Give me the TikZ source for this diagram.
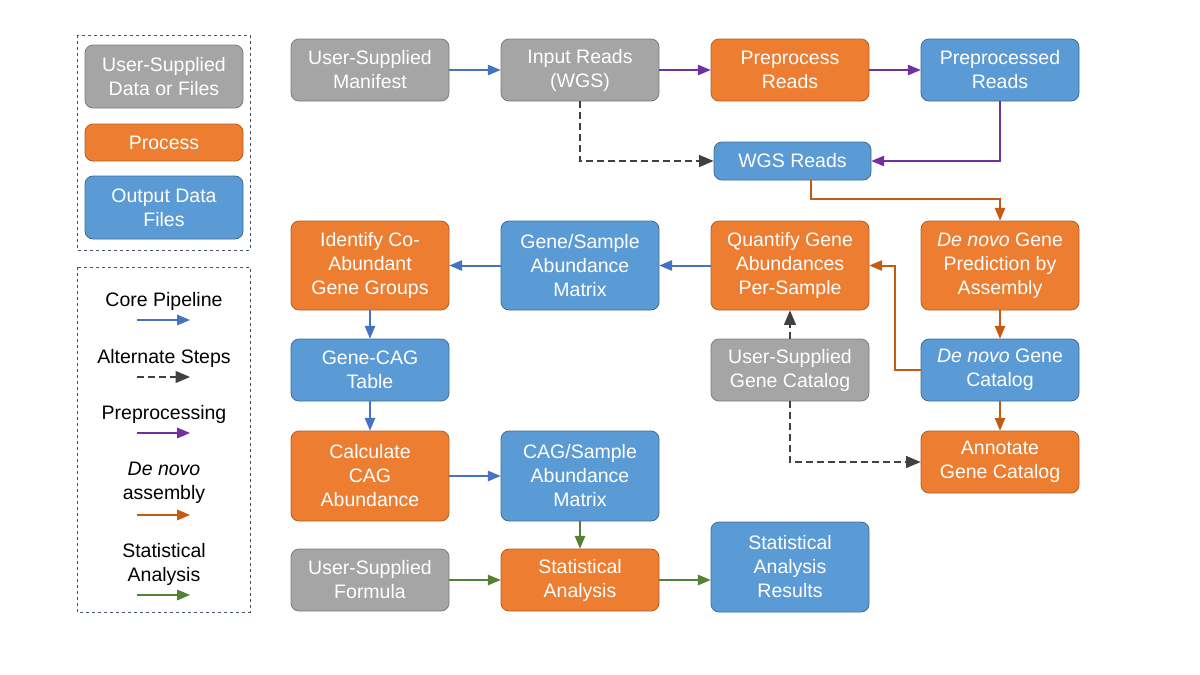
\documentclass[tikz,border=0pt]{standalone}
\usepackage{fontspec}
\setmainfont{Liberation Sans}
\usetikzlibrary{arrows,calc}
\definecolor{usergray}{HTML}{A5A5A5}
\definecolor{procorange}{HTML}{ED7D31}
\definecolor{outblue}{HTML}{5B9BD5}
\definecolor{coreblue}{HTML}{4472C4}
\definecolor{altgray}{HTML}{404040}
\definecolor{preppurple}{HTML}{7030A0}
\definecolor{denovobrown}{HTML}{C55A11}
\definecolor{statgreen}{HTML}{548235}
\definecolor{framegray}{HTML}{44546A}
\tikzset{box/.style={draw, rounded corners=8pt, minimum width=158pt, align=center, text=white, line width=0.8pt, inner sep=2pt, font=\fontsize{19.5}{24}\selectfont}}
\tikzset{userbox/.style={box, fill=usergray, draw=usergray!75!black}}
\tikzset{procbox/.style={box, fill=procorange, draw=procorange!75!black}}
\tikzset{outbox/.style={box, fill=outblue, draw=outblue!70!black}}
\tikzset{legendframe/.style={draw=framegray, dashed, line width=0.7pt}}
\tikzset{legendtext/.style={align=center, font=\fontsize{19.5}{24}\selectfont}}
\tikzset{core/.style={-triangle 45, coreblue, line width=2pt}}
\tikzset{alternate/.style={-triangle 45, altgray, line width=2.4pt, dash pattern=on 7pt off 4pt}}
\tikzset{prep/.style={-triangle 45, preppurple, line width=2pt}}
\tikzset{denovo/.style={-triangle 45, denovobrown, line width=2pt}}
\tikzset{stat/.style={-triangle 45, statgreen, line width=2pt}}
\begin{document}
\begin{tikzpicture}[x=1pt,y=-1pt]
    \useasboundingbox (0,0) rectangle (1200,675);
    % legend
    \draw [legendframe] (77,35) rectangle (250,250);
    \draw [legendframe] (77,267) rectangle (250,612);
    \node [userbox,minimum height=63pt] (keyuser) at (164,76.5) {User-Supplied\\Data or Files};
    \node [procbox,minimum height=37pt] (keyproc) at (164,142.5) {Process};
    \node [outbox,minimum height=63pt] (keyout) at (164,207.5) {Output Data\\Files};
    \node [legendtext] (keycore) at (164,301) {Core Pipeline};
    \node [legendtext] (keyalt) at (164,358) {Alternate Steps};
    \node [legendtext] (keyprep) at (164,414) {Preprocessing};
    \node [legendtext] (keydenovo) at (164,483) {\textit{De novo}\\assembly};
    \node [legendtext] (keystat) at (164,564) {Statistical\\Analysis};
    \foreach \name/\y/\kind in {core/320/core,alt/377/alternate,prep/433/prep,denovo/515/denovo,stat/595/stat}
        \draw [\kind] (137,\y) coordinate (\name a) -- (190,\y) coordinate (\name b);
    % row 1
    \node [userbox,minimum height=62pt] (manifest) at (370,70) {User-Supplied\\Manifest};
    \node [userbox,minimum height=62pt] (input) at (580,70) {Input Reads\\(WGS)};
    \node [procbox,minimum height=62pt] (preprocess) at (790,70) {Preprocess\\Reads};
    \node [outbox,minimum height=62pt] (preprocessed) at (1000,70) {Preprocessed\\Reads};
    \node [outbox,minimum height=38pt,minimum width=157pt] (wgs) at (792.5,161) {WGS Reads};
    % row 2
    \node [procbox,minimum height=89pt] (identify) at (370,265.5) {Identify Co-\\Abundant\\Gene Groups};
    \node [outbox,minimum height=89pt] (genematrix) at (580,265.5) {Gene/Sample\\Abundance\\Matrix};
    \node [procbox,minimum height=89pt] (quantify) at (790,265.5) {Quantify Gene\\Abundances\\Per-Sample};
    \node [procbox,minimum height=89pt] (predict) at (1000,265.5) {\textit{De novo} Gene\\Prediction by\\Assembly};
    % row 3
    \node [outbox,minimum height=62pt] (genecag) at (370,370) {Gene-CAG\\Table};
    \node [userbox,minimum height=62pt] (usercatalog) at (790,370) {User-Supplied\\Gene Catalog};
    \node [outbox,minimum height=62pt] (catalog) at (1000,370) {\textit{De novo} Gene\\Catalog};
    % row 4
    \node [procbox,minimum height=90pt] (calculate) at (370,476) {Calculate\\CAG\\Abundance};
    \node [outbox,minimum height=90pt] (cagmatrix) at (580,476) {CAG/Sample\\Abundance\\Matrix};
    \node [procbox,minimum height=62pt] (annotate) at (1000,462) {Annotate\\Gene Catalog};
    % row 5
    \node [userbox,minimum height=62pt] (formula) at (370,580) {User-Supplied\\Formula};
    \node [procbox,minimum height=62pt] (analysis) at (580,580) {Statistical\\Analysis};
    \node [outbox,minimum height=90pt] (results) at (790,567) {Statistical\\Analysis\\Results};
    % connectors
    \draw [core] (manifest) -- (input);
    \draw [prep] (input) -- (preprocess);
    \draw [prep] (preprocess) -- (preprocessed);
    \draw [prep] (preprocessed.south) |- (wgs.east);
    \draw [alternate] (input.south) |- (wgs.west);
    \draw [denovo] ([xshift=18pt]wgs.south) -- ++(0,19) -| (predict.north);
    \draw [denovo] (predict) -- (catalog);
    \draw [denovo] (catalog.west) -- ++(-26,0) |- (quantify.east);
    \draw [denovo] (catalog) -- (annotate);
    \draw [alternate] (usercatalog) -- (quantify);
    \draw [alternate] (usercatalog.south) |- (annotate.west);
    \draw [core] (quantify) -- (genematrix);
    \draw [core] (genematrix) -- (identify);
    \draw [core] (identify) -- (genecag);
    \draw [core] (genecag) -- (calculate);
    \draw [core] (calculate) -- (cagmatrix);
    \draw [stat] (cagmatrix) -- (analysis);
    \draw [stat] (formula) -- (analysis);
    \draw [stat] (analysis) -- (results.west |- analysis);
\end{tikzpicture}
\end{document}
